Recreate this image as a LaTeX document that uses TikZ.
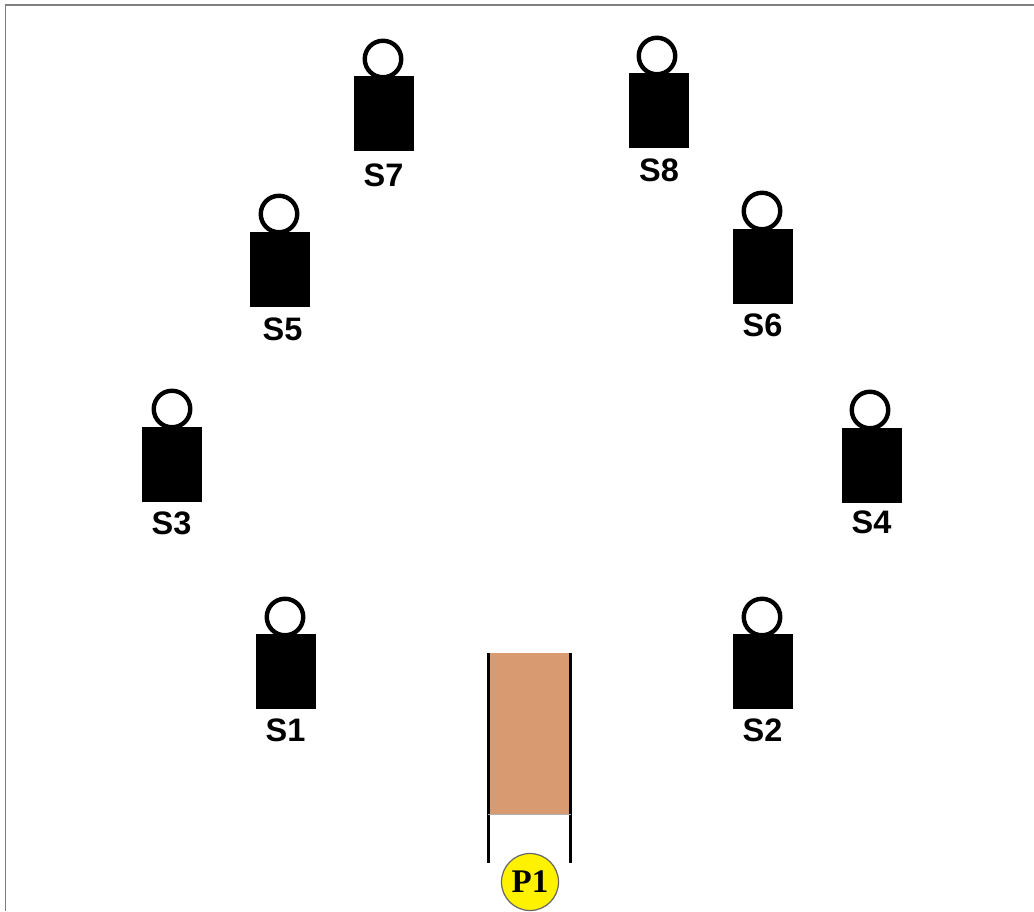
\documentclass[tikz,border=0pt]{standalone}
\usepackage{fontspec}
\setmainfont{Liberation Serif}
\setsansfont{Liberation Sans}
\usepackage{xcolor}
\definecolor{doorfill}{HTML}{D89A70}
\definecolor{frameline}{HTML}{7F7F7F}
\begin{document}
\begin{tikzpicture}[x=1pt,y=-1pt,line cap=butt,
  body/.style={fill=black,inner sep=0pt,minimum width=60pt,minimum height=75pt},
  head/.style={circle,draw=black,line width=4.4pt,fill=white,inner sep=0pt,minimum size=36.5pt},
  seat/.style={font=\sffamily\bfseries\fontsize{32.5}{33}\selectfont,inner sep=0pt},
  door/.style={fill=doorfill,inner sep=0pt,minimum width=82pt,minimum height=161pt},
  post/.style={line width=3.2pt},
  player/.style={circle,draw=black!60,line width=1.2pt,fill=yellow,inner sep=0pt,minimum size=57pt,
    font=\rmfamily\bfseries\fontsize{33}{33}\selectfont}]
\useasboundingbox (0,0) rectangle (1034,911);
\draw[frameline,line width=1.6pt] (5.3,911) -- (5.3,4.8) -- (1034,4.8);
% seats
\foreach \name/\bx/\by/\hx/\hy/\lx/\ly in {
  S1/286/671.7/285/617/285.5/730,
  S2/763/671.7/762/617/762.5/730,
  S3/172/464.5/172/409/171.5/523,
  S4/871.5/465.5/870/410/871.5/522,
  S5/280/269.5/279/214/282.5/329,
  S6/763/266.5/762/211/762.5/325,
  S7/384/113.5/383/59/383.5/175,
  S8/659/110.5/657/56/659/170}{
  \node[head] (head\name) at (\hx,\hy) {};
  \node[body] (body\name) at (\bx,\by) {};
  \node[seat] (label\name) at (\lx,\ly) {\name};
}
% door
\node[door] (door) at (529.5,733.5) {};
\coordinate (postA) at (488.5,653);
\coordinate (postB) at (488.5,863);
\coordinate (postC) at (570.5,653);
\coordinate (postD) at (570.5,863);
\draw[post] (postA) -- (postB);
\draw[post] (postC) -- (postD);
\draw[frameline!60,line width=0.8pt] (door.south west) -- (door.south east);
\node[player] (P1) at (530,882) {P1};
\end{tikzpicture}
\end{document}
